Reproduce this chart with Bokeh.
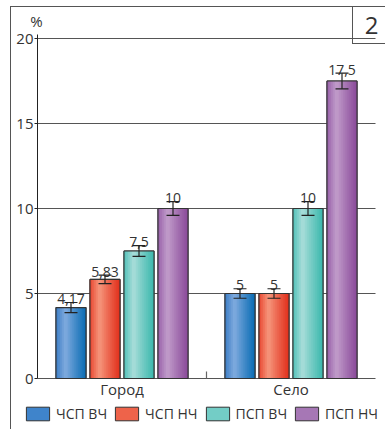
import numpy as np
from bokeh.plotting import figure
from bokeh.models import (ColumnDataSource, FixedTicker, Whisker, TeeHead, Legend,
                          LegendItem, Label, Range1d, InlineStyleSheet, Grid)
from bokeh.core.properties import value
from bokeh.embed import file_html
from bokeh.resources import INLINE

# ---------------- data ----------------
categories = ["Город", "Село"]
series = ["ЧСП ВЧ", "ЧСП НЧ", "ПСП ВЧ", "ПСП НЧ"]
gorod = [4.17, 5.83, 7.5, 10.0]
selo = [5.0, 5.0, 10.0, 17.5]
gorod_err = [0.30, 0.25, 0.32, 0.40]
selo_err = [0.28, 0.28, 0.41, 0.46]
y_ticks = [0, 5, 10, 15, 20]
y_tick_labels = ["0", "5", "10", "15", "20"]
unit_label = "%"
panel_number = "2"

# ---------------- styles ----------------
FONT = "Open Sans"
TXT = "#333333"
stops = [
    ("#3a7cc5", "#82acdf", "#0a6cb5"),
    ("#e8452f", "#f6987e", "#e1301c"),
    ("#4fc0b8", "#abdeda", "#3bb8ad"),
    ("#975fa8", "#c29ecb", "#8a4a9a"),
]
legend_fill = ["#3f84cb", "#ee634a", "#73cdc6", "#a677b5"]
step = 0.2012
bar_w = 0.1775
n_strips = 15
px_per_y = 17.0
px_per_x = 169.0
y_top = 20.24
n_cat = len(categories)


def hex2rgb(h):
    h = h.lstrip("#")
    return np.array([int(h[i:i + 2], 16) for i in (0, 2, 4)], dtype=float)


def rgb2hex(c):
    return "#%02x%02x%02x" % tuple(int(round(v)) for v in c)


def grad(st, t):
    a, b, c = (hex2rgb(s) for s in st)
    if t < 0.33:
        f = t / 0.33
        return rgb2hex(a + (b - a) * f)
    f = (t - 0.33) / 0.67
    return rgb2hex(b + (c - b) * f ** 0.9)


# frame: left 11 .. right 385, top 6 .. bottom 429 ; zero line at pixel 378, x=0 at pixel 37
x_start = -26 / px_per_x
x_end = x_start + 374 / px_per_x
p = figure(width=385, height=429, output_backend="svg", toolbar_location=None,
           x_axis_location=None,
           x_range=Range1d(x_start, x_end),
           y_range=Range1d(-51 / px_per_y, 372 / px_per_y),
           min_border_left=11, min_border_right=0, min_border_top=6, min_border_bottom=0)
p.outline_line_color = None
p.background_fill_color = "white"
p.border_fill_color = "white"

vals = [gorod, selo]
errs = [gorod_err, selo_err]

# grid lines (the zero line doubles as the category axis line)
p.xgrid.visible = False
p.ygrid.ticker = FixedTicker(ticks=y_ticks)
p.ygrid.grid_line_color = "#555555"
p.ygrid.grid_line_width = 1.2
if "cross_bounds" in Grid.properties():
    p.ygrid.cross_bounds = (0, n_cat)
else:
    p.ygrid.visible = False
    p.segment(x0=[0] * len(y_ticks), x1=[n_cat] * len(y_ticks),
              y0=y_ticks, y1=y_ticks, line_color="#555555", line_width=1.2)

legend_items = []
all_x, all_top, all_err = [], [], []
for i, name in enumerate(series):
    xs = [g + 0.5 + (i - 1.5) * step for g in range(n_cat)]
    tops = [vals[g][i] for g in range(n_cat)]
    es = [errs[g][i] for g in range(n_cat)]
    all_x += xs
    all_top += tops
    all_err += es
    r = p.vbar(x=xs, top=tops, bottom=0, width=bar_w, fill_color=legend_fill[i],
               line_color="#333333", line_width=1)
    legend_items.append(LegendItem(label=name, renderers=[r]))
    sx, stop_, sc = [], [], []
    sw = bar_w / n_strips
    for xc, tp in zip(xs, tops):
        for k in range(n_strips):
            t = (k + 0.5) / n_strips
            sx.append(xc - bar_w / 2 + (k + 0.5) * sw)
            stop_.append(tp)
            sc.append(grad(stops[i], t))
    p.vbar(x=sx, top=stop_, bottom=0, width=sw * 1.25, fill_color=sc, line_color=None)

p.vbar(x=all_x, top=all_top, bottom=0, width=bar_w, fill_color=None,
       line_color="#333333", line_width=1.1)

up = [t + e for t, e in zip(all_top, all_err)]
lo = [t - e for t, e in zip(all_top, all_err)]
lab_y = [u + 3.5 / px_per_y for u in up]
labels = [("%g" % t).replace(".", ",") for t in all_top]
src = ColumnDataSource(dict(x=all_x, up=up, lo=lo, ly=lab_y, lab=labels))
w = Whisker(source=src, base="x", upper="up", lower="lo", dimension="height",
            line_color="#222222", line_width=1.2, level="overlay",
            upper_head=TeeHead(size=13, line_color="#222222", line_width=1.2),
            lower_head=TeeHead(size=13, line_color="#222222", line_width=1.2))
p.add_layout(w)
p.text(x="x", y="ly", text="lab", source=src, text_align="center",
       text_baseline="alphabetic", text_font=value(FONT),
       text_font_size="14px", text_color=TXT)

# category labels and the separating tick on the zero line
cat_x = [g + 0.5 for g in range(n_cat)]
p.text(x=cat_x, y=[0] * n_cat, text=categories, text_align="center",
       text_baseline="top", text_font=value(FONT), text_font_size="15px",
       text_color=TXT)
sep_x = [g for g in range(1, n_cat)]
p.segment(x0=sep_x, x1=sep_x, y0=[0] * len(sep_x), y1=[7 / px_per_y] * len(sep_x),
          line_color="#666666", line_width=1.2)

# y axis (line and ticks); tick labels drawn as text next to it
p.yaxis.fixed_location = 0
p.yaxis.bounds = (0, y_top)
p.yaxis.ticker = FixedTicker(ticks=y_ticks)
p.yaxis.major_label_overrides = {t: "" for t in y_ticks}
p.yaxis.major_label_standoff = 0
p.yaxis.major_tick_out = 3
p.yaxis.major_tick_in = 0
p.yaxis.minor_tick_line_color = None
p.yaxis.axis_line_color = "#222222"
p.yaxis.major_tick_line_color = "#222222"
p.text(x=[0] * len(y_ticks), y=y_ticks, text=y_tick_labels, x_offset=-4,
       text_align="right", text_baseline="middle", text_font=value(FONT),
       text_font_size="15px", text_color=TXT)

legend = Legend(items=legend_items, orientation="horizontal", location=(12, 6),
                glyph_width=29, glyph_height=17, label_standoff=4, spacing=5,
                padding=0, margin=0, border_line_color=None, background_fill_alpha=0,
                label_text_font=FONT, label_text_font_size="14px",
                label_text_color=TXT)
p.add_layout(legend)

# decorations
p.add_layout(Label(x=0, y=y_top, x_offset=-1, y_offset=3, text=unit_label,
                   text_align="center", text_baseline="bottom", text_font=FONT,
                   text_font_size="15px", text_color=TXT))
p.add_layout(Label(x=n_cat, y=y_top, x_offset=-4, y_offset=9, text=panel_number,
                   text_align="center", text_baseline="middle", text_font=FONT,
                   text_font_size="24px", text_color=TXT, level="overlay"))

p.stylesheets = [InlineStyleSheet(css="""
:host::after { content: ""; position: absolute; left: 10px; top: 6px; right: 0; bottom: 0;
  border-left: 1px solid #555; border-top: 1px solid #555; pointer-events: none; z-index: 5; }
:host::before { content: ""; position: absolute; left: 352px; top: 6px; width: 40px; height: 36px;
  border: 1px solid #555; pointer-events: none; z-index: 6; }
""")]

open("out.html", "w").write(file_html(p, INLINE))
